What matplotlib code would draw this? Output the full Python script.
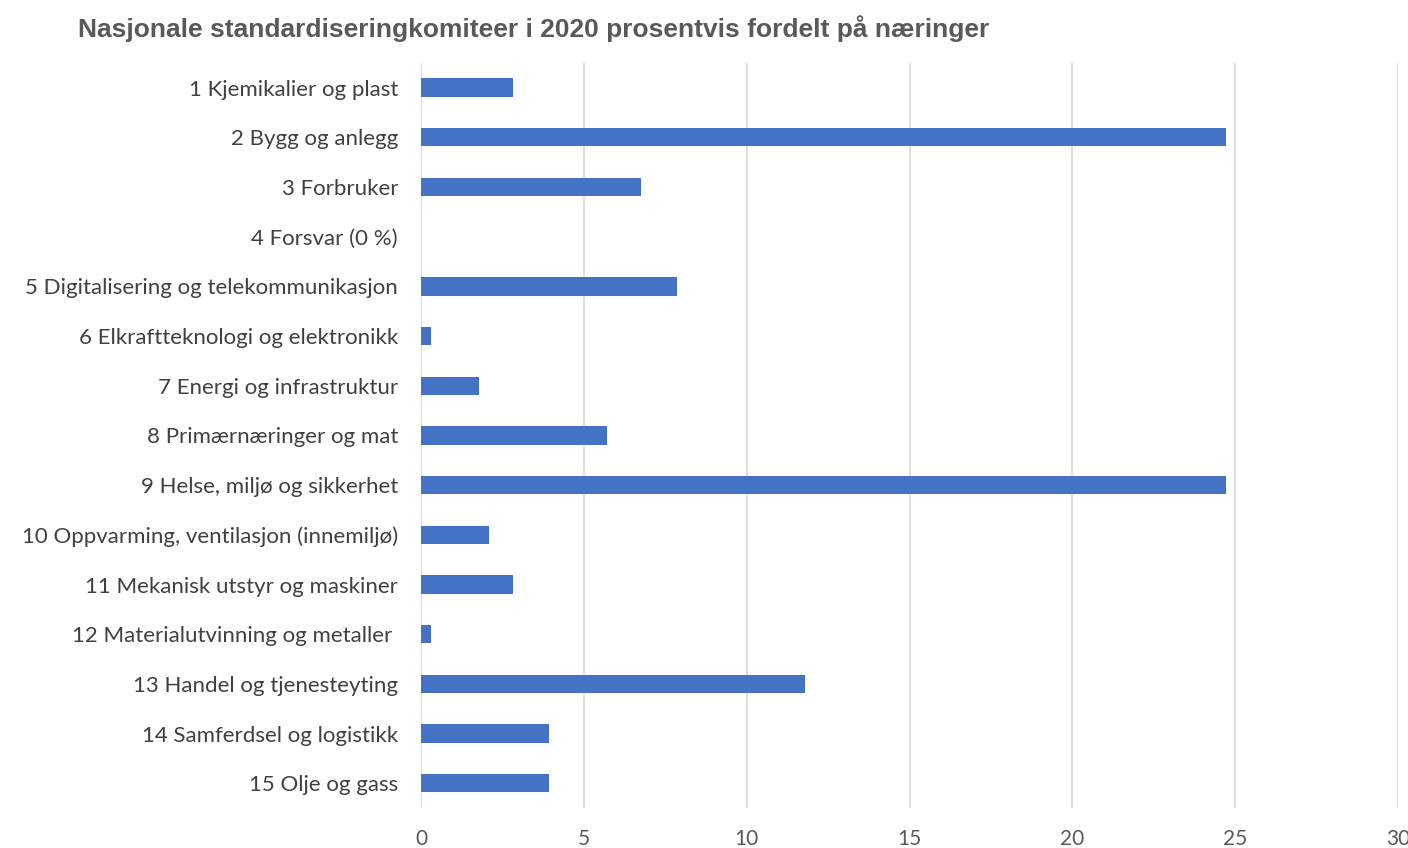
import matplotlib
matplotlib.use("Agg")
import matplotlib.pyplot as plt

# categories, top to bottom
categories = [
    "1 Kjemikalier og plast",
    "2 Bygg og anlegg",
    "3 Forbruker",
    "4 Forsvar (0 %)",
    "5 Digitalisering og telekommunikasjon",
    "6 Elkraftteknologi og elektronikk",
    "7 Energi og infrastruktur",
    "8 Primærnæringer og mat",
    "9 Helse, miljø og sikkerhet",
    "10 Oppvarming, ventilasjon (innemiljø)",
    "11 Mekanisk utstyr og maskiner",
    "12 Materialutvinning og metaller ",
    "13 Handel og tjenesteyting",
    "14 Samferdsel og logistikk",
    "15 Olje og gass",
]
# percent share
values = [2.83, 24.72, 6.76, 0.0, 7.86, 0.31, 1.78, 5.71, 24.72, 2.09, 2.83, 0.31, 11.79, 3.93, 3.93]
xticks = [0, 5, 10, 15, 20, 25, 30]

fig = plt.figure(figsize=(14.08, 8.48), dpi=100)
ax = fig.add_axes([0.299, 0.047, 0.694, 0.879])

ypos = list(range(len(categories)))
ax.barh(ypos, values, height=0.37, color="#4472C4")
ax.set_ylim(len(categories) - 0.5, -0.5)
ax.set_xlim(0, 30)
ax.set_xticks(xticks)
ax.set_yticks(ypos)
ax.set_yticklabels(categories, fontsize=16, color="#404040", family="Lato")
ax.tick_params(axis="x", labelsize=15, labelcolor="#595959", length=0, pad=15)
ax.tick_params(axis="y", length=0, pad=16.5)
for lab in ax.get_xticklabels():
    lab.set_family("Lato")

ax.grid(axis="x", color="#D9D9D9", linewidth=1.2)
ax.set_axisbelow(True)
for s in ax.spines.values():
    s.set_visible(False)

fig.text(78 / 1408, 1 - 29 / 848, "Nasjonale standardiseringkomiteer i 2020 prosentvis fordelt på næringer",
         fontsize=19, fontweight="bold", color="#595959", family="Liberation Sans",
         ha="left", va="center")

fig.savefig("out.png", dpi=100)
